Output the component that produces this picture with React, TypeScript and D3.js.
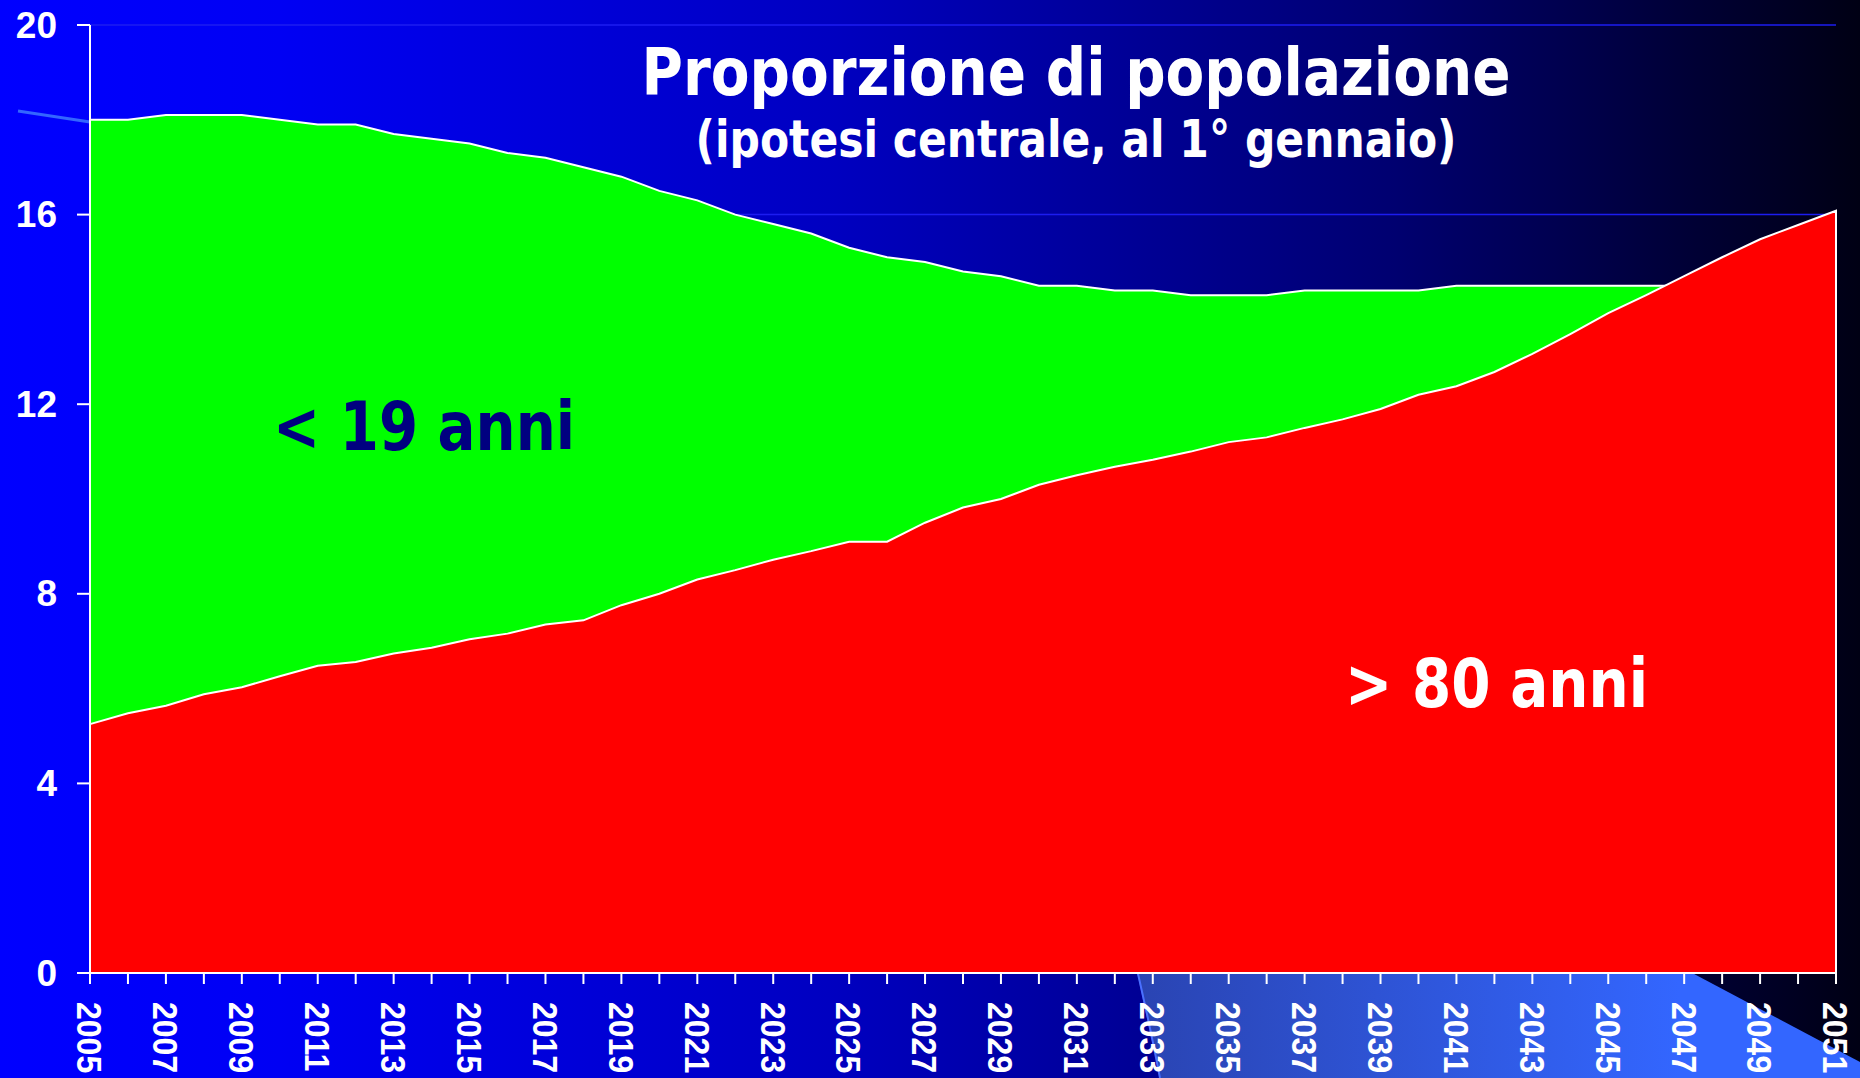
import * as d3 from "d3";

const W = 1860;
const H = 1078;
const MARGIN = { top: 25, right: 24, bottom: 105, left: 90 };

const years = [
  2005, 2006, 2007, 2008, 2009, 2010, 2011, 2012, 2013, 2014, 2015, 2016,
  2017, 2018, 2019, 2020, 2021, 2022, 2023, 2024, 2025, 2026, 2027, 2028,
  2029, 2030, 2031, 2032, 2033, 2034, 2035, 2036, 2037, 2038, 2039, 2040,
  2041, 2042, 2043, 2044, 2045, 2046, 2047, 2048, 2049, 2050, 2051,
];

// < 19 anni
const under19 = [
  18.0, 18.0, 18.1, 18.1, 18.1, 18.0, 17.9, 17.9, 17.7, 17.6, 17.5, 17.3,
  17.2, 17.0, 16.8, 16.5, 16.3, 16.0, 15.8, 15.6, 15.3, 15.1, 15.0, 14.8,
  14.7, 14.5, 14.5, 14.4, 14.4, 14.3, 14.3, 14.3, 14.4, 14.4, 14.4, 14.4,
  14.5, 14.5, 14.5, 14.5, 14.5, 14.5, 14.5, 14.5, 14.5, 14.5, 14.5,
];

// > 80 anni
const over80 = [
  5.25, 5.48, 5.64, 5.88, 6.03, 6.26, 6.48, 6.56, 6.74, 6.86, 7.04, 7.16,
  7.35, 7.44, 7.76, 8.0, 8.3, 8.5, 8.72, 8.9, 9.1, 9.1, 9.5, 9.82,
  10.0, 10.3, 10.5, 10.68, 10.83, 11.0, 11.2, 11.3, 11.5, 11.68, 11.9, 12.2,
  12.38, 12.68, 13.06, 13.48, 13.92, 14.3, 14.7, 15.1, 15.48, 15.78, 16.08,
];

const yTicks = [0, 4, 8, 12, 16, 20];

const AXIS_FONT = "'Liberation Sans', Arial, sans-serif";
const TITLE_FONT = "'DejaVu Sans', Tahoma, Verdana, sans-serif";

export default function App() {
  const xScale = d3
    .scaleLinear()
    .domain([years[0], years[years.length - 1]])
    .range([MARGIN.left, W - MARGIN.right]);
  const yScale = d3
    .scaleLinear()
    .domain([0, 20])
    .range([H - MARGIN.bottom, MARGIN.top]);

  const area = d3
    .area<number>()
    .x((_, i) => xScale(years[i]))
    .y0(yScale(0))
    .y1((d) => yScale(d));

  const y0 = yScale(0);
  const xL = xScale(years[0]);
  const xR = xScale(years[years.length - 1]);

  return (
    <svg
      width={W}
      height={H}
      style={{ position: "absolute", left: 0, top: 0, display: "block" }}
    >
      <defs>
        <linearGradient id="bg" x1="0" x2="1" y1="0" y2="0">
          <stop offset="0%" stopColor="#0000ff" />
          <stop offset="15%" stopColor="#0000f4" />
          <stop offset="45%" stopColor="#0000c0" />
          <stop offset="75%" stopColor="#000070" />
          <stop offset="100%" stopColor="#000014" />
        </linearGradient>
        <linearGradient id="light" gradientUnits="userSpaceOnUse" x1="1136" x2="1680" y1="0" y2="0">
          <stop offset="0%" stopColor="#2a44b2" />
          <stop offset="100%" stopColor="#3366ff" />
        </linearGradient>
      </defs>

      <rect x={0} y={0} width={W} height={H} fill="url(#bg)" />

      {/* slide decoration behind the chart */}
      <path
        d={`M1130,940 L1630,940 L${W},1062 L${W},${H} L1160,${H} Z`}
        fill="url(#light)"
      />
      <path d={`M1130,940 Q1147,1010 1160,${H}`} fill="none" stroke="#4a70ff" strokeWidth={2} />
      <line x1={18} y1={111} x2={90} y2={122} stroke="#3366ff" strokeWidth={3} />

      {/* gridlines */}
      {yTicks.slice(1).map((t) => (
        <line
          key={t}
          x1={xL}
          x2={xR}
          y1={yScale(t)}
          y2={yScale(t)}
          stroke="#1c1cf0"
          strokeWidth={1.5}
        />
      ))}

      {/* areas */}
      <path d={area(under19) ?? ""} fill="#00ff00" stroke="#ffffff" strokeWidth={2} />
      <path d={area(over80) ?? ""} fill="#ff0000" stroke="#ffffff" strokeWidth={2} />

      {/* axes */}
      <line x1={xL} x2={xL} y1={yScale(20)} y2={y0} stroke="#fff" strokeWidth={2} />
      <line x1={xL} x2={xR} y1={y0} y2={y0} stroke="#fff" strokeWidth={2} />
      {yTicks.map((t) => (
        <g key={t}>
          <line x1={xL - 13} x2={xL} y1={yScale(t)} y2={yScale(t)} stroke="#fff" strokeWidth={2} />
          <text
            x={57}
            y={yScale(t)}
            textAnchor="end"
            dominantBaseline="central"
            fill="#fff"
            fontFamily={AXIS_FONT}
            fontWeight="bold"
            fontSize={37}
          >
            {t}
          </text>
        </g>
      ))}
      {years.map((yr) => (
        <line
          key={yr}
          x1={xScale(yr)}
          x2={xScale(yr)}
          y1={y0}
          y2={y0 + 11}
          stroke="#fff"
          strokeWidth={2}
        />
      ))}
      {years
        .filter((yr) => yr % 2 === 1)
        .map((yr) => (
          <text
            key={yr}
            transform={`translate(${xScale(yr)},${y0 + 29}) rotate(90) scale(1,1.12)`}
            textAnchor="start"
            dominantBaseline="central"
            fill="#fff"
            fontFamily={AXIS_FONT}
            fontWeight="bold"
            fontSize={32}
          >
            {yr}
          </text>
        ))}

      {/* titles */}
      <text
        x={1076}
        y={95}
        textAnchor="middle"
        fill="#fff"
        fontFamily={TITLE_FONT}
        fontWeight="bold"
        fontSize={66}
        textLength={869}
        lengthAdjust="spacingAndGlyphs"
      >
        Proporzione di popolazione
      </text>
      <text
        x={1076}
        y={157}
        textAnchor="middle"
        fill="#fff"
        fontFamily={TITLE_FONT}
        fontWeight="bold"
        fontSize={51}
        textLength={761}
        lengthAdjust="spacingAndGlyphs"
      >
        (ipotesi centrale, al 1° gennaio)
      </text>

      {/* series labels */}
      <text
        x={273}
        y={450}
        fill="#000080"
        fontFamily={TITLE_FONT}
        fontWeight="bold"
        fontSize={67}
        textLength={302}
        lengthAdjust="spacingAndGlyphs"
      >
        {"< 19 anni"}
      </text>
      <text
        x={1345}
        y={707}
        fill="#fff"
        fontFamily={TITLE_FONT}
        fontWeight="bold"
        fontSize={68}
        textLength={303}
        lengthAdjust="spacingAndGlyphs"
      >
        {"> 80 anni"}
      </text>
    </svg>
  );
}
